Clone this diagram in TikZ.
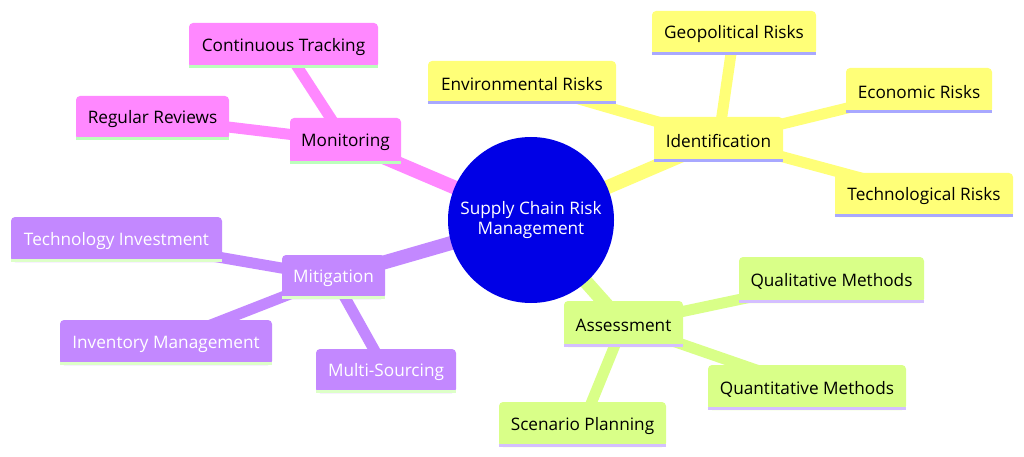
\documentclass[tikz,border=0pt]{standalone}
\usepackage{fontspec}
\setmainfont{Open Sans}
\definecolor{cblue}{HTML}{0000E6}
\definecolor{cyel}{HTML}{FFFF78}
\definecolor{cyelb}{HTML}{A8A8FF}
\definecolor{cpink}{HTML}{FF88FF}
\definecolor{cpinkb}{HTML}{BBFFBB}
\definecolor{cpur}{HTML}{C388FF}
\definecolor{cpurb}{HTML}{DDFFC8}
\definecolor{cgrn}{HTML}{D9FF88}
\definecolor{cgrnb}{HTML}{D4BFFF}
\tikzset{
  box/.style={rounded corners=4pt, inner sep=0pt, font=\fontsize{17.2}{20}\selectfont},
  ybox/.style={box, fill=cyel, text=black},
  pbox/.style={box, fill=cpink, text=black},
  ubox/.style={box, fill=cpur, text=white},
  gbox/.style={box, fill=cgrn, text=black},
  yedge/.style={draw=cyel, line width=#1},
  pedge/.style={draw=cpink, line width=#1},
  uedge/.style={draw=cpur, line width=#1},
  gedge/.style={draw=cgrn, line width=#1},
  bline/.style={line width=3pt},
}
\newcommand{\mnode}[7]{\node[#6, minimum width=#4pt, minimum height=#5pt] (#1) at (#2,#3) {};
  \node[#6, fill=none] (#1t) at ([yshift=-1.5pt]#1.center) {#7};}
\begin{document}
\begin{tikzpicture}[x=1pt,y=-1pt]
\useasboundingbox (0,0) rectangle (1024,457);
% coordinates for edge ends (node centres)
\coordinate (cC) at (531,220);
\coordinate (cGeo) at (734,33);
\coordinate (cEco) at (919,90.5);
\coordinate (cIde) at (718.5,139.5);
\coordinate (cTec) at (924,195);
\coordinate (cEnv) at (522,82.5);
\coordinate (cAss) at (623.5,324);
\coordinate (cQua) at (831.5,280);
\coordinate (cQun) at (807,387.5);
\coordinate (cSce) at (582.5,424.5);
\coordinate (cMit) at (333.5,277);
\coordinate (cTin) at (116.5,239.5);
\coordinate (cInv) at (166,342.5);
\coordinate (cMul) at (386,371);
\coordinate (cCon) at (283.5,45.5);
\coordinate (cMon) at (345.5,141);
\coordinate (cReg) at (152.5,118);
% edges
\draw[yedge=14pt] (cC) -- (cIde);
\draw[pedge=14pt] (cC) -- (cMon);
\draw[uedge=14pt] (cC) -- (cMit);
\draw[gedge=14pt] (cC) -- (cAss);
\draw[yedge=11pt] (cIde) -- (cGeo);
\draw[yedge=11pt] (cIde) -- (cEco);
\draw[yedge=11pt] (cIde) -- (cTec);
\draw[yedge=11pt] (cIde) -- (cEnv);
\draw[gedge=11pt] (cAss) -- (cQua);
\draw[gedge=11pt] (cAss) -- (cQun);
\draw[gedge=11pt] (cAss) -- (cSce);
\draw[uedge=11pt] (cMit) -- (cTin);
\draw[uedge=11pt] (cMit) -- (cInv);
\draw[uedge=11pt] (cMit) -- (cMul);
\draw[pedge=11pt] (cMon) -- (cCon);
\draw[pedge=11pt] (cMon) -- (cReg);
% centre
\node[circle, fill=cblue, text=white, minimum size=166pt, inner sep=0pt, align=center, font=\fontsize{17.2}{20}\selectfont] (C) at (cC) {Supply Chain Risk\\Management};
% yellow
\mnode{Geo}{734}{33}{164}{44}{ybox}{Geopolitical Risks}
\mnode{Eco}{919}{90.5}{146}{45}{ybox}{Economic Risks}
\mnode{Ide}{718.5}{139.5}{129}{45}{ybox}{Identification}
\mnode{Tec}{924}{195}{178}{44}{ybox}{Technological Risks}
\mnode{Env}{522}{82.5}{188}{43}{ybox}{Environmental Risks}
\foreach \n in {Geo,Eco,Ide,Tec,Env}{\draw[cyelb, bline] ([yshift=1.5pt]\n.south west) -- ([yshift=1.5pt]\n.south east);}
% green
\mnode{Ass}{623.5}{324}{119}{46}{gbox}{Assessment}
\mnode{Qua}{831.5}{280}{185}{46}{gbox}{Qualitative Methods}
\mnode{Qun}{807}{387.5}{198}{45}{gbox}{Quantitative Methods}
\mnode{Sce}{582.5}{424.5}{167}{45}{gbox}{Scenario Planning}
\foreach \n in {Ass,Qua,Qun,Sce}{\draw[cgrnb, bline] ([yshift=1.5pt]\n.south west) -- ([yshift=1.5pt]\n.south east);}
% purple
\mnode{Mit}{333.5}{277}{103}{44}{ubox}{Mitigation}
\mnode{Tin}{116.5}{239.5}{211}{45}{ubox}{Technology Investment}
\mnode{Inv}{166}{342.5}{212}{45}{ubox}{Inventory Management}
\mnode{Mul}{386}{371}{140}{44}{ubox}{Multi-Sourcing}
\foreach \n in {Mit,Tin,Inv,Mul}{\draw[cpurb, bline] ([yshift=1.5pt]\n.south west) -- ([yshift=1.5pt]\n.south east);}
% pink
\mnode{Mon}{345.5}{141}{111}{46}{pbox}{Monitoring}
\mnode{Con}{283.5}{45.5}{189}{45}{pbox}{Continuous Tracking}
\mnode{Reg}{152.5}{118}{153}{44}{pbox}{Regular Reviews}
\foreach \n in {Mon,Con,Reg}{\draw[cpinkb, bline] ([yshift=1.5pt]\n.south west) -- ([yshift=1.5pt]\n.south east);}
\end{tikzpicture}
\end{document}
